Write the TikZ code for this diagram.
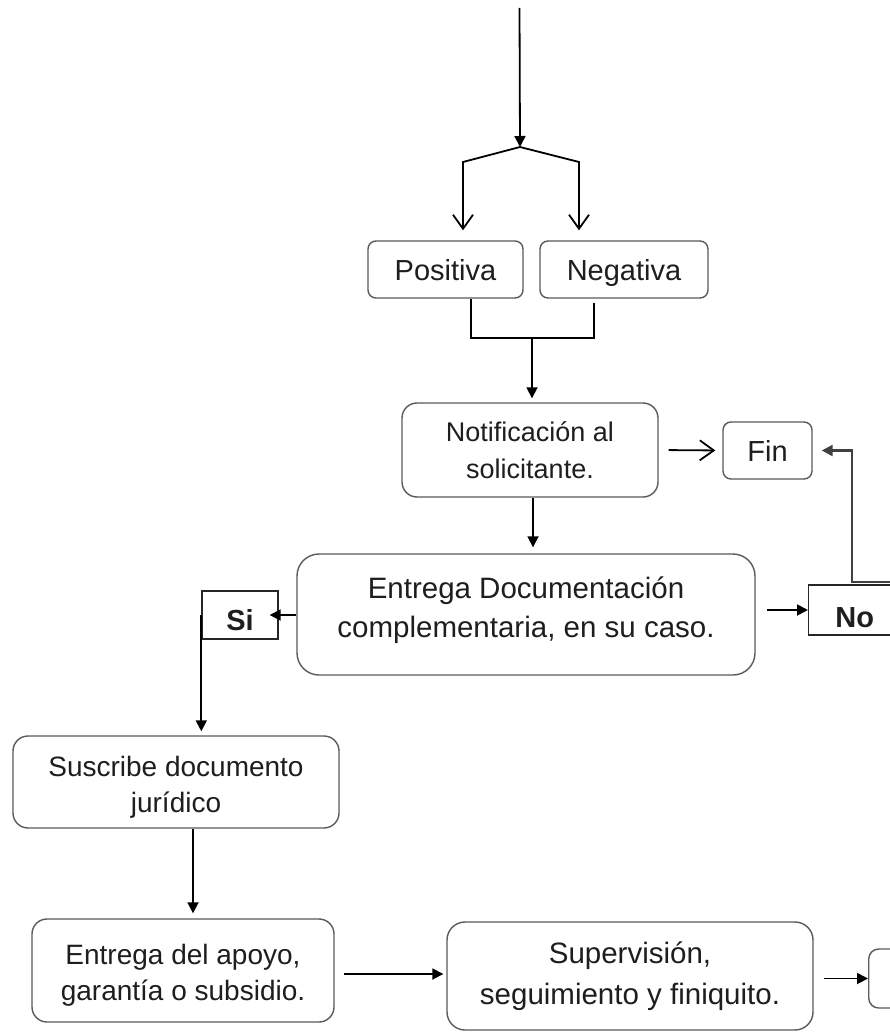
\documentclass[tikz,border=0pt]{standalone}
\usepackage{fontspec}
\setmainfont{Liberation Sans}
\usetikzlibrary{arrows.meta}
\definecolor{boxgray}{HTML}{5A5A5A}
\definecolor{txt}{HTML}{1E1E1E}
\tikzset{
  box/.style={draw=boxgray, line width=1.4pt, align=center, text=txt, inner sep=0pt},
  rbox/.style={box, rounded corners=#1},
  one/.style={font=\fontsize{29}{34}\selectfont, text height=21pt, text depth=0pt},
  sqbox/.style={draw=black!85, line width=1.4pt, align=center, text=txt, inner sep=0pt, font=\bfseries\fontsize{29}{34}\selectfont, text depth=0pt},
  lbl/.style={align=center, text=txt, inner sep=0pt},
  conn/.style={draw=black, line width=1.8pt},
  farr/.style={conn, -{Triangle[length=11pt,width=11pt]}},
  oarr/.style={conn, -{Straight Barb[length=14pt,width=20pt,line width=1.8pt]}},
}
\begin{document}
\begin{tikzpicture}[x=1pt,y=-1pt]
\useasboundingbox[fill=white] (0,0) rectangle (890,1032);

% nodes
\node[rbox=8pt, minimum width=155pt, minimum height=57pt, one] (pos) at (445.5,269.5) {Positiva};
\node[rbox=8pt, minimum width=168pt, minimum height=57pt, one] (neg) at (624,269.5) {Negativa};
\node[rbox=15pt, minimum width=256pt, minimum height=94pt, font=\fontsize{27}{37}\selectfont] (notif) at (530,450) {Notificación al\\solicitante.};
\node[rbox=8pt, minimum width=89pt, minimum height=57pt, one] (fin) at (767.5,450.5) {Fin};
\node[rbox=22pt, minimum width=458pt, minimum height=121pt] (edoc) at (526,614.5) {};
\node[lbl, font=\fontsize{29.5}{39}\selectfont] (edoctxt) at (526,610) {Entrega Documentación\\complementaria, en su caso.};
\node[sqbox, anchor=west, minimum width=92pt, minimum height=50pt, text height=35pt] (no) at (808,610) {No};
\node[sqbox, minimum width=76pt, minimum height=48pt, text height=30pt] (si) at (240,615) {Si};
\node[rbox=15pt, minimum width=326pt, minimum height=92pt] (susc) at (176,782) {};
\node[lbl, font=\fontsize{28}{36}\selectfont] (susctxt) at (176,787) {Suscribe documento\\jurídico};
\node[rbox=15pt, minimum width=302pt, minimum height=103pt] (apoyo) at (183,970.5) {};
\node[lbl, font=\fontsize{28}{36}\selectfont] (apoyotxt) at (183,975) {Entrega del apoyo,\\garantía o subsidio.};
\node[rbox=18pt, minimum width=366pt, minimum height=108pt, font=\fontsize{29.5}{41}\selectfont] (superv) at (630,976) {Supervisión,\\seguimiento y finiquito.};
\node[rbox=10pt, anchor=west, minimum width=40pt, minimum height=59pt] (cut) at (868,978.5) {};

% coordinates
\coordinate (start) at (519.5,8);
\coordinate (apex) at (520,147);
\coordinate (lc) at (463,162);
\coordinate (rc) at (579,162);
\coordinate (join) at (532,338);
\coordinate (rin) at (892,582);
\coordinate (bend) at (852,582);

% connectors
\draw[farr] (start) -- (apex);
\draw[oarr, shorten >=10pt] (apex) -- (lc) -- (lc |- pos.north);
\draw[oarr, shorten >=10pt] (apex) -- (rc) -- (rc |- neg.north);
\draw[conn] ([xshift=25.5pt]pos.south) |- (join) -| ([xshift=-30pt,yshift=-4pt]neg.south);
\draw[farr, shorten >=4pt] (join) -- (join |- notif.north);
\draw[oarr, shorten <=10pt, shorten >=7pt] (notif.east) -- (fin.west);
\draw[farr, shorten >=6pt] ([xshift=3pt]notif.south) -- ([xshift=3pt]notif.south |- edoc.north);
\draw[farr, shorten <=11pt] (edoc.east |- no.west) -- (no.west);
\draw[farr, shorten >=-9pt] (edoc.west |- si.east) -- (si.east);
\draw[farr, shorten >=4pt] (si.west) -- (si.west |- susc.north);
\draw[farr, shorten >=5pt] ([xshift=17pt]susc.south) -- ([xshift=17pt]susc.south |- apoyo.north);
\draw[farr, shorten <=9pt, shorten >=3pt] (apoyo.east |- 0,974) -- (superv.west |- 0,974);
\draw[farr, shorten <=10pt] (superv.east |- cut.west) -- (cut.west);
\draw[draw=black!75, line width=2.4pt, -{Triangle[length=11pt,width=11pt]}, shorten >=9pt] (rin) -- (bend) |- (fin.east);
\end{tikzpicture}
\end{document}
